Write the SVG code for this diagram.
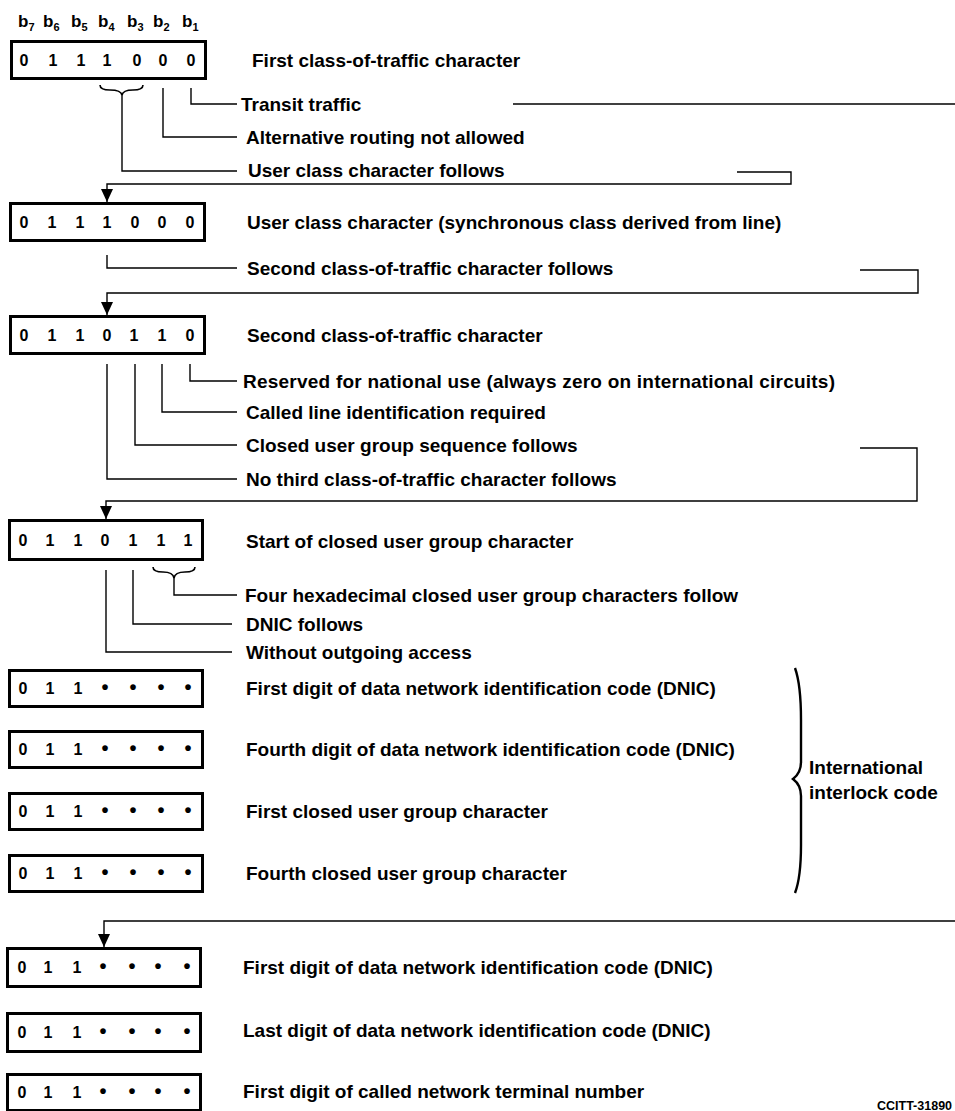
<svg xmlns="http://www.w3.org/2000/svg" width="955" height="1111" viewBox="0 0 955 1111">
<style>
.box{fill:#fff;stroke:#000;stroke-width:3}
.d{font-family:"Liberation Sans",Arial,sans-serif;font-weight:bold;font-size:16px;text-anchor:middle;fill:#000}
.p{font-size:20px}
.t{font-family:"Liberation Sans",Arial,sans-serif;font-weight:bold;font-size:19px;fill:#000}
.hb{font-family:"Liberation Sans",Arial,sans-serif;font-weight:bold;font-size:17px;fill:#000}
.ln{fill:none;stroke:#000;stroke-width:1.4}
.br{fill:none;stroke:#000;stroke-width:1.6}
</style>
<defs>
<marker id="ah" viewBox="0 0 13 12" refX="13" refY="6" markerWidth="13" markerHeight="12" markerUnits="userSpaceOnUse" orient="auto">
<path d="M0,0 L13,6 L0,12 z" fill="#000"/>
</marker>
</defs>
<rect width="955" height="1111" fill="#fff"/>

<g id="header">
<text class="hb" x="18" y="27">b<tspan dy="4" font-size="11">7</tspan></text>
<text class="hb" x="43" y="27">b<tspan dy="4" font-size="11">6</tspan></text>
<text class="hb" x="71" y="27">b<tspan dy="4" font-size="11">5</tspan></text>
<text class="hb" x="98" y="27">b<tspan dy="4" font-size="11">4</tspan></text>
<text class="hb" x="127" y="27">b<tspan dy="4" font-size="11">3</tspan></text>
<text class="hb" x="153" y="27">b<tspan dy="4" font-size="11">2</tspan></text>
<text class="hb" x="182" y="27">b<tspan dy="4" font-size="11">1</tspan></text>
</g>

<g id="box1">
<rect class="box" x="11.5" y="41.5" width="194" height="37"/>
<text class="d" y="66"><tspan x="24">0</tspan><tspan x="53">1</tspan><tspan x="81">1</tspan><tspan x="107">1</tspan><tspan x="137">0</tspan><tspan x="163">0</tspan><tspan x="191">0</tspan></text>
<text class="t" x="252" y="67">First class-of-traffic character</text>
</g>
<g id="box2">
<rect class="box" x="10.5" y="203.5" width="194" height="37"/>
<text class="d" y="228"><tspan x="24">0</tspan><tspan x="52">1</tspan><tspan x="80">1</tspan><tspan x="107">1</tspan><tspan x="135">0</tspan><tspan x="162">0</tspan><tspan x="190">0</tspan></text>
<text class="t" x="247" y="229">User class character (synchronous class derived from line)</text>
</g>
<g id="box3">
<rect class="box" x="10.5" y="316.5" width="194" height="37"/>
<text class="d" y="341"><tspan x="24">0</tspan><tspan x="52">1</tspan><tspan x="80">1</tspan><tspan x="107">0</tspan><tspan x="134">1</tspan><tspan x="162">1</tspan><tspan x="190">0</tspan></text>
<text class="t" x="247" y="342">Second class-of-traffic character</text>
</g>
<g id="box4">
<rect class="box" x="9.5" y="520.5" width="193" height="39"/>
<text class="d" y="546"><tspan x="23">0</tspan><tspan x="50">1</tspan><tspan x="78">1</tspan><tspan x="105">0</tspan><tspan x="133">1</tspan><tspan x="161">1</tspan><tspan x="188">1</tspan></text>
<text class="t" x="246" y="548">Start of closed user group character</text>
</g>
<g id="box5">
<rect class="box" x="9.5" y="670.5" width="193" height="36"/>
<text class="d" y="694"><tspan x="23">0</tspan><tspan x="50">1</tspan><tspan x="78">1</tspan><tspan class="p" x="105">•</tspan><tspan class="p" x="133">•</tspan><tspan class="p" x="161">•</tspan><tspan class="p" x="188">•</tspan></text>
<text class="t" x="246" y="695">First digit of data network identification code (DNIC)</text>
</g>
<g id="box6">
<rect class="box" x="9.5" y="731.5" width="193" height="36"/>
<text class="d" y="755"><tspan x="23">0</tspan><tspan x="50">1</tspan><tspan x="78">1</tspan><tspan class="p" x="105">•</tspan><tspan class="p" x="133">•</tspan><tspan class="p" x="161">•</tspan><tspan class="p" x="188">•</tspan></text>
<text class="t" x="246" y="756">Fourth digit of data network identification code (DNIC)</text>
</g>
<g id="box7">
<rect class="box" x="9.5" y="793.5" width="193" height="36"/>
<text class="d" y="817"><tspan x="23">0</tspan><tspan x="50">1</tspan><tspan x="78">1</tspan><tspan class="p" x="105">•</tspan><tspan class="p" x="133">•</tspan><tspan class="p" x="161">•</tspan><tspan class="p" x="188">•</tspan></text>
<text class="t" x="246" y="818">First closed user group character</text>
</g>
<g id="box8">
<rect class="box" x="9.5" y="855.5" width="193" height="36"/>
<text class="d" y="879"><tspan x="23">0</tspan><tspan x="50">1</tspan><tspan x="78">1</tspan><tspan class="p" x="105">•</tspan><tspan class="p" x="133">•</tspan><tspan class="p" x="161">•</tspan><tspan class="p" x="188">•</tspan></text>
<text class="t" x="246" y="880">Fourth closed user group character</text>
</g>
<g id="box9">
<rect class="box" x="7.5" y="948.5" width="193" height="38"/>
<text class="d" y="973"><tspan x="22">0</tspan><tspan x="48">1</tspan><tspan x="77">1</tspan><tspan class="p" x="103">•</tspan><tspan class="p" x="132">•</tspan><tspan class="p" x="158">•</tspan><tspan class="p" x="187">•</tspan></text>
<text class="t" x="243" y="974">First digit of data network identification code (DNIC)</text>
</g>
<g id="box10">
<rect class="box" x="7.5" y="1013.5" width="193" height="38"/>
<text class="d" y="1038"><tspan x="22">0</tspan><tspan x="48">1</tspan><tspan x="77">1</tspan><tspan class="p" x="103">•</tspan><tspan class="p" x="132">•</tspan><tspan class="p" x="158">•</tspan><tspan class="p" x="187">•</tspan></text>
<text class="t" x="243" y="1037">Last digit of data network identification code (DNIC)</text>
</g>
<g id="box11">
<rect class="box" x="7.5" y="1074.5" width="193" height="36"/>
<text class="d" y="1098"><tspan x="22">0</tspan><tspan x="48">1</tspan><tspan x="77">1</tspan><tspan class="p" x="103">•</tspan><tspan class="p" x="132">•</tspan><tspan class="p" x="158">•</tspan><tspan class="p" x="187">•</tspan></text>
<text class="t" x="243" y="1098">First digit of called network terminal number</text>
</g>

<g id="labels">
<text class="t" x="241" y="111">Transit traffic</text>
<text class="t" x="246" y="144">Alternative routing not allowed</text>
<text class="t" x="248" y="177">User class character follows</text>
<text class="t" x="247" y="275">Second class-of-traffic character follows</text>
<text class="t" x="243" y="388" textLength="592" lengthAdjust="spacing">Reserved for national use (always zero on international circuits)</text>
<text class="t" x="246" y="419">Called line identification required</text>
<text class="t" x="246" y="452">Closed user group sequence follows</text>
<text class="t" x="246" y="486">No third class-of-traffic character follows</text>
<text class="t" x="245" y="602">Four hexadecimal closed user group characters follow</text>
<text class="t" x="246" y="631">DNIC follows</text>
<text class="t" x="246" y="659">Without outgoing access</text>
<text class="t" x="809" y="774">International</text>
<text class="t" x="809" y="799">interlock code</text>
<text x="877" y="1110" font-family="'Liberation Sans',Arial,sans-serif" font-weight="bold" font-size="12.5">CCITT-31890</text>
</g>

<g id="connectors">
<path class="br" d="M100,85 Q100,90 110,90 Q121,90 122,95 Q123,90 133,90 Q143,90 143,85"/>
<path class="ln" d="M191,88 V104 H237"/>
<path class="ln" d="M163,88 V137 H237"/>
<path class="ln" d="M122,95 V171 H237"/>
<path class="ln" d="M513,104 H955"/>
<path class="ln" d="M737,172 H791 V184 H107 V202" marker-end="url(#ah)"/>
<path class="ln" d="M107,255 V268 H237"/>
<path class="ln" d="M860,270 H918 V293 H107 V315" marker-end="url(#ah)"/>
<path class="ln" d="M190,364 V381 H237"/>
<path class="ln" d="M162,364 V412 H237"/>
<path class="ln" d="M135,364 V445 H237"/>
<path class="ln" d="M107,364 V479 H237"/>
<path class="ln" d="M860,448 H917 V501 H106 V519" marker-end="url(#ah)"/>
<path class="br" d="M153,567 Q153,572 163,572 Q173,572 174,578 Q175,572 185,572 Q195,572 195,567"/>
<path class="ln" d="M174,578 V595 H237"/>
<path class="ln" d="M133,570 V624 H232"/>
<path class="ln" d="M106,570 V652 H232"/>
<path class="ln" d="M955,921 H104 V947" marker-end="url(#ah)"/>
<path d="M795,668 C800,682 801,700 801,720 L801,762 C801,772 797,776 793,779 C797,782 801,786 801,796 L801,845 C801,865 800,880 795,893" fill="none" stroke="#000" stroke-width="2.4"/>
</g>
</svg>
